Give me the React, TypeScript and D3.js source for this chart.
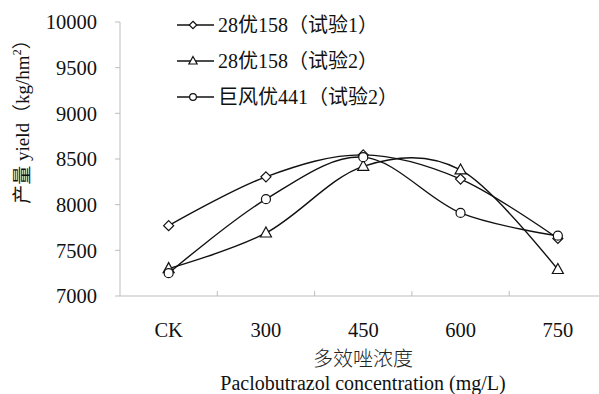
import { useEffect, useRef } from 'react';
import * as d3 from 'd3';

const CATEGORIES = ['CK', '300', '450', '600', '750'];
const Y_TICKS = [7000, 7500, 8000, 8500, 9000, 9500, 10000];
const TRIAL1_28Y158 = [7770, 8305, 8545, 8280, 7630];
const TRIAL2_28Y158 = [7300, 7690, 8420, 8380, 7290];
const TRIAL2_JFY441 = [7250, 8060, 8520, 7910, 7660];
const SERIES_NAMES = ['28优158（试验1）', '28优158（试验2）', '巨风优441（试验2）'];
const SERIES_MARKERS = ['diamond', 'triangle', 'circle'];

const FONT = "'Times New Roman', 'Liberation Serif', 'Noto Sans CJK SC', serif";
const INK = '#111';

export default function App() {
  const svgRef = useRef<SVGSVGElement>(null);

  useEffect(() => {
    const el = svgRef.current;
    if (!el) return;
    const svg = d3.select(el);
    svg.selectAll('*').remove();

    const W = 599;
    const H = 394;
    const left = 120;
    const top = 22;
    const bottom = 296;
    const band = 97.3;

    const x = d3.scaleBand().domain(CATEGORIES).range([left, left + band * CATEGORIES.length]).padding(0);
    const y = d3.scaleLinear().domain([7000, 10000]).range([bottom, top]);
    const cx = (c: string) => (x(c) || 0) + x.bandwidth() / 2;

    svg.append('rect').attr('width', W).attr('height', H).attr('fill', '#fff');

    // axes
    const axisColor = '#bdbdbd';
    svg.append('line').attr('x1', left).attr('x2', left).attr('y1', top).attr('y2', bottom)
      .attr('stroke', axisColor).attr('stroke-width', 1);
    svg.append('line').attr('x1', left).attr('x2', W).attr('y1', bottom).attr('y2', bottom)
      .attr('stroke', axisColor).attr('stroke-width', 1);

    Y_TICKS.forEach((t) => {
      svg.append('line').attr('x1', left - 5).attr('x2', left).attr('y1', y(t)).attr('y2', y(t))
        .attr('stroke', axisColor);
      svg.append('text').attr('x', 97).attr('y', y(t)).attr('dy', '0.35em')
        .attr('text-anchor', 'end').attr('font-size', 20.5).attr('font-family', FONT).attr('fill', INK)
        .text(t);
    });

    CATEGORIES.forEach((c, i) => {
      if (i > 0) {
        const tx = x(c) || 0;
        svg.append('line').attr('x1', tx).attr('x2', tx).attr('y1', bottom - 5).attr('y2', bottom)
          .attr('stroke', axisColor);
      }
      svg.append('text').attr('x', cx(c)).attr('y', 337)
        .attr('text-anchor', 'middle').attr('font-size', 20.5).attr('font-family', FONT).attr('fill', INK)
        .text(c);
    });

    // axis titles
    svg.append('text').attr('x', 363).attr('y', 366).attr('text-anchor', 'middle')
      .attr('font-size', 20).attr('font-family', FONT).attr('fill', '#222').attr('font-weight', 300)
      .text('多效唑浓度');
    svg.append('text').attr('x', 363).attr('y', 390).attr('text-anchor', 'middle')
      .attr('font-size', 20).attr('font-family', FONT).attr('fill', INK).text('Paclobutrazol concentration (mg/L)');

    const yt = svg.append('text').attr('transform', `translate(29,117) rotate(-90)`)
      .attr('text-anchor', 'middle').attr('font-size', 19).attr('font-family', FONT).attr('fill', INK);
    yt.append('tspan').text('产量 yield（kg/hm');
    yt.append('tspan').attr('font-size', 12).attr('dy', -8).text('2');
    yt.append('tspan').attr('dy', 8).text('）');

    const allSeries = [TRIAL1_28Y158, TRIAL2_28Y158, TRIAL2_JFY441];
    const line = d3.line<number>()
      .x((_, i) => cx(CATEGORIES[i]))
      .y((d) => y(d))
      .curve(d3.curveCardinal.tension(0));

    const drawMarker = (g: d3.Selection<SVGGElement, unknown, null, undefined>, kind: string, px: number, py: number, s = 1) => {
      if (kind === 'diamond') {
        g.append('path').attr('d', `M${px},${py - 5 * s}L${px + 5 * s},${py}L${px},${py + 5 * s}L${px - 5 * s},${py}Z`)
          .attr('fill', '#fff').attr('stroke', INK).attr('stroke-width', 1.2);
      } else if (kind === 'triangle') {
        g.append('path').attr('d', `M${px},${py - 6 * s}L${px + 5.5 * s},${py + 4 * s}L${px - 5.5 * s},${py + 4 * s}Z`)
          .attr('fill', '#fff').attr('stroke', INK).attr('stroke-width', 1.2);
      } else {
        g.append('circle').attr('cx', px).attr('cy', py).attr('r', 4.5 * s)
          .attr('fill', '#fff').attr('stroke', INK).attr('stroke-width', 1.2);
      }
    };

    const plot = svg.append('g') as unknown as d3.Selection<SVGGElement, unknown, null, undefined>;
    allSeries.forEach((s) => {
      plot.append('path').attr('d', line(s) || '').attr('fill', 'none')
        .attr('stroke', INK).attr('stroke-width', 1.4);
    });
    allSeries.forEach((s, si) => {
      s.forEach((v, i) => drawMarker(plot, SERIES_MARKERS[si], cx(CATEGORIES[i]), y(v)));
    });

    // legend
    const leg = svg.append('g') as unknown as d3.Selection<SVGGElement, unknown, null, undefined>;
    SERIES_NAMES.forEach((name, i) => {
      const ly = 25 + i * 36;
      leg.append('line').attr('x1', 177).attr('x2', 214).attr('y1', ly).attr('y2', ly)
        .attr('stroke', INK).attr('stroke-width', 1.4);
      drawMarker(leg, SERIES_MARKERS[i], 193, ly, 0.75);
      leg.append('text').attr('x', 218).attr('y', ly).attr('dy', '0.35em')
        .attr('font-size', 20).attr('font-family', FONT).attr('fill', INK).text(name);
    });
  }, []);

  return (
    <svg ref={svgRef} width={599} height={394}
      style={{ position: 'absolute', left: 0, top: 0, display: 'block' }} />
  );
}
